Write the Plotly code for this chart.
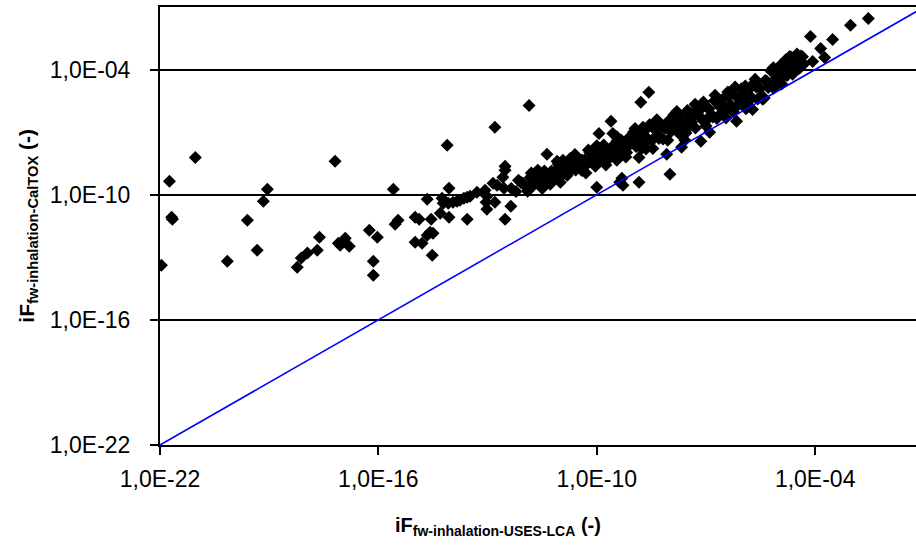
import plotly.graph_objects as go

# log10 of iF values
# x: iF fw-inhalation USES-LCA, y: iF fw-inhalation CalTOX
x_sparse_log = [
    -21.96, -21.74, -21.68, -21.66, -21.03, -20.15, -19.60, -19.33, -19.16, -19.05,
    -18.23, -18.12, -17.95, -17.68, -17.62, -17.19, -17.10, -17.05, -16.91, -16.80,
    -16.25, -16.03, -16.14, -16.14, -15.59, -15.54, -15.46,
    -14.99, -14.88, -14.66, -14.55, -14.30, -14.25, -14.22, -14.08, -13.95, -13.84,
    -13.76, -13.65, -13.56, -13.48, -14.06, -14.06, -13.56, -14.58, -14.50, -14.66,
    -14.99, -14.80, -14.52, -13.29, -13.07, -13.02, -12.85, -12.74, -13.04, -13.02,
    -12.80, -12.55, -12.58, -12.52, -12.52, -12.36, -12.52, -14.11, -12.80, -11.86,
    -12.03, -11.84, -11.62, -11.62, -11.48, -11.37, -11.37, -11.20, -11.09, -11.09,
    -11.01, -10.93, -10.85, -10.74, -10.60, -10.46, -10.38, -10.00, -9.94, -9.56,
    -9.61, -9.37, -9.31, -9.28, -8.84, -8.84, -8.46, -7.99, -8.08, -8.57, -8.79,
    -9.70, -9.45, -7.67, -7.58, -7.14, -6.90, -6.16, -5.72,
    -2.54, -3.03, -3.52, -4.13, -3.85, -3.74, -4.07, -4.43, -4.70, -4.51, -4.43,
]
y_sparse_log = [
    -13.38, -9.36, -11.08, -11.18, -8.21, -13.19, -11.22, -12.66, -10.31, -9.74,
    -13.48, -13.04, -12.80, -12.66, -12.04, -8.40, -12.33, -12.42, -12.09, -12.47,
    -11.70, -12.04, -13.19, -13.86, -9.74, -11.42, -11.22,
    -11.08, -11.18, -10.22, -11.18, -10.89, -10.17, -10.41, -10.41, -10.36, -10.31,
    -10.27, -10.17, -10.12, -10.07, -9.69, -11.08, -11.18, -11.80, -11.85, -11.94,
    -12.28, -12.33, -12.90, -9.88, -9.79, -10.07, -9.45, -9.55, -10.36, -10.70,
    -10.36, -9.69, -9.16, -8.83, -8.64, -10.55, -11.18, -7.63, -6.77, -5.72,
    -9.45, -9.50, -8.97, -8.83, -9.55, -9.31, -8.06, -9.12, -9.07, -8.40,
    -9.16, -8.97, -8.49, -8.83, -8.69, -8.49, -8.45, -9.64, -7.06, -7.06,
    -6.48, -9.40, -9.21, -9.55, -9.40, -8.21, -7.78, -9.02, -8.06, -5.09, -5.57,
    -8.21, -8.35, -7.73, -7.39, -7.44, -7.01, -6.48, -5.91,
    -1.55, -1.88, -2.56, -2.41, -2.99, -3.42, -3.61, -3.75, -3.37, -3.70, -3.94,
]

# dense cloud between 1E-12 and 1E-04
x_band_log = [
    -12.35, -12.22, -12.08, -11.95, -11.83, -11.76, -11.62, -11.55, -11.44, -11.37,
    -11.25, -11.18, -11.06, -10.97, -10.88, -10.81, -10.73, -10.66, -10.58, -10.49,
    -10.41, -10.33, -10.27, -10.19, -10.12, -10.04, -9.96, -9.88, -9.81, -9.73,
    -9.66, -9.59, -9.52, -9.44, -9.37, -9.29, -9.22, -9.14, -9.07, -8.99,
    -8.92, -8.85, -8.77, -8.69, -8.62, -8.55, -8.47, -8.40, -8.33, -8.26,
    -8.18, -8.11, -8.03, -7.96, -7.88, -7.81, -7.74, -7.66, -7.59, -7.51,
    -7.44, -7.36, -7.29, -7.22, -7.14, -7.07, -6.99, -6.92, -6.85, -6.77,
    -6.70, -6.62, -6.55, -6.48, -6.40, -6.33, -6.25, -6.18, -6.10, -6.03,
    -5.95, -5.88, -5.81, -5.73, -5.66, -5.58, -5.51, -5.44, -5.37, -5.29,
    -5.22, -5.14, -5.07, -4.99, -4.92, -4.84, -4.77, -4.69, -4.62, -4.54,
    -4.47, -4.39, -4.31,
    -12.15, -11.90, -11.68, -11.48, -11.28, -11.12, -10.93, -10.77, -10.62, -10.45,
    -10.23, -10.08, -9.92, -9.77, -9.62, -9.48, -9.33, -9.18, -9.03, -8.88,
    -8.73, -8.58, -8.44, -8.29, -8.14, -7.99, -7.84, -7.70, -7.55, -7.40,
    -7.25, -7.10, -6.96, -6.81, -6.66, -6.51, -6.37, -6.22, -6.07, -5.92,
    -5.77, -5.62, -5.47, -5.33, -5.18, -5.03, -4.88, -4.73, -4.58,
    -11.80, -11.50, -11.00, -10.60, -10.30, -10.00, -9.75, -9.45, -9.20, -8.95,
    -8.65, -8.35, -8.05, -7.80, -7.55, -7.30, -7.00, -6.75, -6.45, -6.20,
    -5.90, -5.65, -5.40, -5.15, -4.95, -4.80, -4.65, -4.50, -4.35, -5.05,
    -5.60, -6.00, -6.60, -7.15, -7.65, -8.20, -8.80, -9.40, -9.90, -10.40,
]
y_band_log = [
    -9.70, -9.85, -9.41, -9.62, -9.18, -9.58, -9.23, -9.54, -8.86, -9.16,
    -8.88, -9.28, -8.54, -8.93, -8.62, -9.07, -8.26, -8.61, -8.81, -8.29,
    -8.84, -8.33, -8.54, -7.98, -8.28, -8.63, -7.92, -8.27, -7.62, -7.96,
    -8.26, -7.71, -7.96, -7.41, -8.16, -7.60, -7.85, -7.30, -7.55, -6.99,
    -7.69, -7.25, -7.79, -6.93, -7.28, -6.64, -7.38, -6.88, -7.13, -6.58,
    -7.33, -6.83, -6.47, -6.97, -6.17, -6.67, -7.07, -6.31, -6.66, -5.96,
    -6.71, -6.25, -6.80, -5.90, -6.30, -5.55, -6.44, -5.89, -6.15, -5.49,
    -6.34, -5.78, -5.44, -5.99, -5.08, -5.68, -6.03, -5.28, -5.67, -4.92,
    -5.37, -5.67, -4.92, -5.36, -4.61, -5.41, -4.91, -5.42, -4.52, -4.86,
    -4.06, -4.90, -4.40, -3.89, -4.69, -3.93, -4.28, -3.62, -4.22, -3.61,
    -3.91, -3.35, -3.73,
    -9.31, -9.83, -8.93, -9.29, -9.50, -8.83, -8.35, -8.89, -8.33, -8.57,
    -7.86, -8.11, -8.39, -7.79, -7.98, -7.74, -7.38, -7.98, -7.32, -7.52,
    -6.76, -7.36, -6.81, -7.30, -6.70, -6.79, -6.34, -6.84, -6.34, -6.53,
    -5.78, -6.42, -5.82, -6.27, -5.66, -5.81, -5.26, -5.85, -5.30, -4.79,
    -5.34, -4.83, -5.26, -4.56, -4.80, -4.14, -4.33, -3.87, -3.91,
    -8.96, -9.70, -9.40, -8.07, -8.96, -7.65, -8.58, -7.22, -8.19, -6.82,
    -7.81, -6.40, -7.39, -6.01, -7.04, -5.66, -6.70, -5.23, -6.32, -4.84,
    -5.88, -4.46, -5.36, -3.91, -3.78, -3.52, -3.41, -3.25, -3.39, -4.67,
    -4.77, -5.20, -6.12, -5.91, -6.61, -6.74, -7.51, -8.03, -7.78, -8.33,
]

line_x = [1e-22, 1e-1]
line_y = [1e-22, 1e-1]

tick_vals = [1e-22, 1e-16, 1e-10, 1e-4]
tick_text = ["1,0E-22", "1,0E-16", "1,0E-10", "1,0E-04"]

x_title = "<b>iF<sub>fw-inhalation-USES-LCA</sub> (-)</b>"
y_title = "<b>iF<sub>fw-inhalation-CalTOX</sub> (-)</b>"

xs = [10 ** v for v in x_sparse_log + x_band_log]
ys = [10 ** v for v in y_sparse_log + y_band_log]

fig = go.Figure()
fig.add_trace(go.Scatter(
    x=xs, y=ys, mode="markers",
    marker=dict(symbol="diamond", size=10, color="black", line=dict(width=0)),
    showlegend=False, hoverinfo="skip",
))
fig.add_trace(go.Scatter(
    x=line_x, y=line_y, mode="lines",
    line=dict(color="#0000FF", width=1.6),
    showlegend=False, hoverinfo="skip",
))

font_family = "Liberation Sans, Arial, sans-serif"
fig.update_layout(
    width=916, height=547,
    margin=dict(l=160, r=0, t=7, b=102),
    paper_bgcolor="white", plot_bgcolor="white",
    font=dict(family=font_family, color="black", size=23),
    xaxis=dict(
        type="log", range=[-22, -1.23], automargin=False,
        tickvals=tick_vals, ticktext=tick_text,
        ticks="outside", ticklen=8, tickwidth=1.5, tickcolor="black",
        showline=True, linecolor="black", linewidth=2, mirror=True,
        showgrid=False, zeroline=False,
        tickfont=dict(size=23),
        ticklabelstandoff=4,
    ),
    yaxis=dict(
        type="log", range=[-22, -1], automargin=False,
        tickvals=tick_vals, ticktext=tick_text,
        ticks="outside", ticklen=8, tickwidth=1.5, tickcolor="black",
        showline=True, linecolor="black", linewidth=2, mirror=False,
        showgrid=True, gridcolor="black", gridwidth=2,
        zeroline=False,
        tickfont=dict(size=23),
        ticklabelstandoff=15,
    ),
    annotations=[
        dict(text=x_title, xref="paper", yref="paper",
             x=0.447, y=-0.187, xanchor="center", yanchor="middle",
             showarrow=False, font=dict(size=20)),
        dict(text=y_title, xref="paper", yref="paper",
             x=-0.175, y=0.50, xanchor="center", yanchor="middle",
             textangle=-90, showarrow=False, font=dict(size=21)),
    ],
)

fig.write_html("out.html", config={"displayModeBar": False},
               post_script="document.body.style.margin='0';")
